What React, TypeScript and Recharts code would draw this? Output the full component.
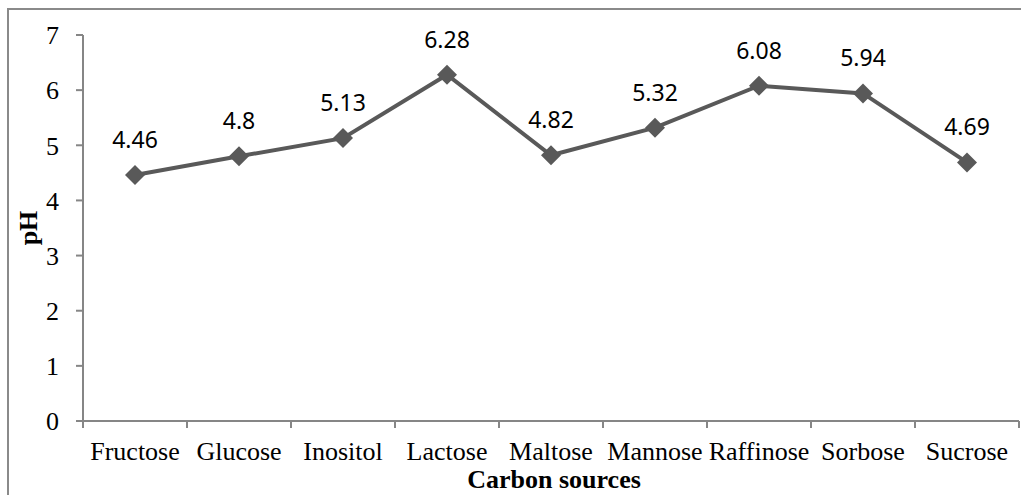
import { LineChart, Line, XAxis, YAxis, LabelList, Label } from 'recharts';

const categories = ['Fructose', 'Glucose', 'Inositol', 'Lactose', 'Maltose', 'Mannose', 'Raffinose', 'Sorbose', 'Sucrose'];
const phValues = [4.46, 4.8, 5.13, 6.28, 4.82, 5.32, 6.08, 5.94, 4.69];
const yTicks = [0, 1, 2, 3, 4, 5, 6, 7];

// x sits in the middle of each category band so tick marks can fall on the band edges
const data = categories.map((name, i) => ({ name, x: i + 0.5, ph: phValues[i] }));
const xTicks = Array.from({ length: categories.length * 2 + 1 }, (_, i) => i / 2);

const AXIS = '#868686';
const LINE = '#595959';
const SERIF = '"Liberation Serif", "Times New Roman", serif';

const Diamond = ({ cx, cy }: any) => {
  const r = 10;
  return (
    <polygon
      points={`${cx},${cy - r} ${cx + r},${cy} ${cx},${cy + r} ${cx - r},${cy}`}
      fill={LINE}
      stroke="none"
    />
  );
};

const XTick = ({ x, y, payload }: any) => {
  const v = payload.value;
  if (Number.isInteger(v)) {
    return <line x1={x} x2={x} y1={y} y2={y + 7} stroke={AXIS} strokeWidth={2} />;
  }
  return (
    <text x={x} y={y + 39} textAnchor="middle" fill="#000" fontFamily={SERIF} fontSize={26}>
      {categories[Math.floor(v)]}
    </text>
  );
};

export default function App() {
  return (
    <div style={{ position: 'absolute', left: 0, top: 0, width: 1021, height: 495, overflow: 'hidden', background: '#fff' }}>
      <div style={{ position: 'absolute', left: 7, top: 8, width: 1100, height: 600, border: '2px solid #8a8a8a' }} />
      <div style={{ position: 'absolute', left: 0, top: 0 }}>
        <LineChart width={1021} height={495} data={data} margin={{ top: 35, right: 2, bottom: 0, left: 0 }}>
          <XAxis
            dataKey="x"
            type="number"
            domain={[0, 9]}
            ticks={xTicks}
            interval={0}
            tickLine={false}
            tickSize={0}
            tickMargin={0}
            stroke={AXIS}
            strokeWidth={2}
            height={74}
            tick={<XTick />}
          >
            <Label
              content={({ viewBox }: any) => (
                <text
                  x={viewBox.x + viewBox.width / 2 + 3}
                  y={viewBox.y + 67}
                  textAnchor="middle"
                  fontFamily={SERIF}
                  fontWeight="bold"
                  fontSize={26}
                  fill="#000"
                >
                  Carbon sources
                </text>
              )}
            />
          </XAxis>
          <YAxis
            type="number"
            domain={[0, 7]}
            ticks={yTicks}
            interval={0}
            width={83}
            tickSize={7}
            tickMargin={17}
            stroke={AXIS}
            strokeWidth={2}
            tick={{ fill: '#000', fontFamily: SERIF, fontSize: 26 }}
          >
            <Label
              content={({ viewBox }: any) => {
                const cx = viewBox.x + 28;
                const cy = viewBox.y + viewBox.height / 2;
                return (
                  <text
                    x={cx}
                    y={cy}
                    transform={`rotate(-90 ${cx} ${cy})`}
                    textAnchor="middle"
                    dominantBaseline="central"
                    fontFamily={SERIF}
                    fontWeight="bold"
                    fontSize={26}
                    fill="#000"
                  >
                    pH
                  </text>
                );
              }}
            />
          </YAxis>
          <Line
            type="linear"
            dataKey="ph"
            stroke={LINE}
            strokeWidth={4}
            dot={<Diamond />}
            activeDot={false}
            isAnimationActive={false}
          >
            <LabelList
              dataKey="ph"
              position="top"
              offset={27}
              fill="#000"
              fontFamily='"Noto Sans", sans-serif'
              fontSize={23}
            />
          </Line>
        </LineChart>
      </div>
    </div>
  );
}
